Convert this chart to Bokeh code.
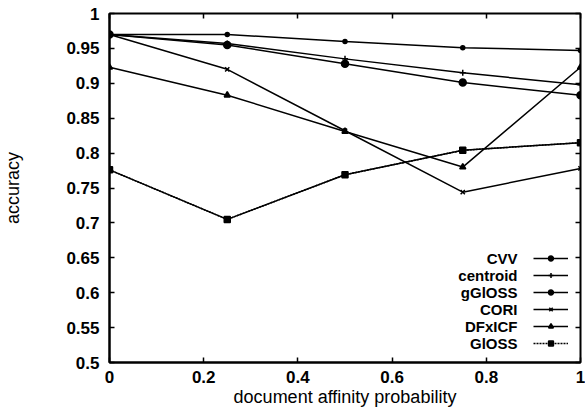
from bokeh.plotting import figure
from bokeh.models import LinearAxis, Legend, LegendItem, FixedTicker, Range1d, Label
from bokeh.embed import file_html
from bokeh.resources import INLINE

x = [0, 0.25, 0.5, 0.75, 1.0]
cvv = [0.970, 0.970, 0.960, 0.951, 0.947]
centroid = [0.970, 0.957, 0.935, 0.915, 0.898]
ggloss = [0.970, 0.955, 0.928, 0.901, 0.883]
cori = [0.970, 0.920, 0.832, 0.744, 0.778]
dfxicf = [0.923, 0.883, 0.831, 0.780, 0.923]
gloss = [0.776, 0.705, 0.769, 0.804, 0.815]

names = ["CVV", "centroid", "gGlOSS", "CORI", "DFxICF", "GlOSS"]
series = [cvv, centroid, ggloss, cori, dfxicf, gloss]
markers = ["circle", "cross", "circle", "x", "triangle", "square"]
msizes = [4, 6, 7, 6, 6, 6]
legend_dash = ["solid", "solid", "solid", "solid", "solid", "2 1"]

xticks = [0, 0.2, 0.4, 0.6, 0.8, 1]
yticks = [0.5, 0.55, 0.6, 0.65, 0.7, 0.75, 0.8, 0.85, 0.9, 0.95, 1]

FONT = "Liberation Sans"

p = figure(width=585, height=411, output_backend="svg", toolbar_location=None,
           x_range=Range1d(0, 1), y_range=Range1d(0.5, 1),
           min_border_left=109, min_border_right=5, min_border_top=13, min_border_bottom=49)
p.grid.visible = False
p.outline_line_color = "black"
p.outline_line_width = 2
p.background_fill_color = "white"
p.border_fill_color = "white"

for ax in (p.xaxis[0], p.yaxis[0]):
    ax.major_tick_in = 5
    ax.major_tick_out = 0
    ax.minor_tick_line_color = None
    ax.axis_line_color = "black"
    ax.axis_line_width = 2
    ax.major_tick_line_width = 1.5
    ax.major_label_text_font = FONT
    ax.major_label_text_font_style = "bold"
    ax.major_label_text_font_size = "17px"
    ax.major_label_text_color = "black"
    ax.axis_label_text_font = FONT
    ax.axis_label_text_font_style = "normal"
    ax.axis_label_text_font_size = "18px"
    ax.axis_label_text_color = "black"

p.xaxis[0].ticker = FixedTicker(ticks=xticks)
p.yaxis[0].ticker = FixedTicker(ticks=yticks)
p.xaxis[0].major_label_overrides = {0: "0", 1: "1"}
p.yaxis[0].major_label_overrides = {1: "1"}
p.xaxis.axis_label = "document affinity probability"
p.yaxis.axis_label = "accuracy"
p.xaxis[0].major_label_standoff = 8
p.xaxis[0].axis_label_standoff = 1
p.yaxis[0].major_label_standoff = 10
p.yaxis[0].axis_label_standoff = 40

top = LinearAxis(ticker=FixedTicker(ticks=xticks), major_tick_in=5, major_tick_out=0,
                 minor_tick_line_color=None, axis_line_color=None, major_tick_line_width=1.5,
                 major_label_overrides={t: "" for t in xticks}, major_label_standoff=0)
right = LinearAxis(ticker=FixedTicker(ticks=yticks), major_tick_in=5, major_tick_out=0,
                   minor_tick_line_color=None, axis_line_color=None, major_tick_line_width=1.5,
                   major_label_overrides={t: "" for t in yticks}, major_label_standoff=0)
p.add_layout(top, "above")
p.add_layout(right, "right")

items = []
for name, ys, m, s, d in zip(names, series, markers, msizes, legend_dash):
    lr = p.line(x, ys, line_color="black", line_width=1.5, line_dash=d)
    if d != "solid":
        p.line(x, ys, line_color="black", line_width=1.5)
    r2 = p.scatter(x, ys, marker=m, size=s, line_color="black", fill_color="black", line_width=1.5)
    items.append(LegendItem(label=" ", renderers=[lr, r2]))

leg = Legend(items=items, location=(424, 11), background_fill_alpha=0,
             border_line_color=None, label_text_font_size="1px", glyph_width=35, glyph_height=12,
             label_height=17, label_width=1, label_standoff=0, spacing=0, padding=0, margin=0)
p.add_layout(leg)

for i, name in enumerate(names):
    p.add_layout(Label(x=408, y=104 - i * 17, x_units="screen", y_units="screen", text=name,
                       text_align="right", text_baseline="middle", text_font=FONT,
                       text_font_style="bold", text_font_size="15px", text_color="black"))

open("out.html", "w").write(file_html(p, INLINE))
